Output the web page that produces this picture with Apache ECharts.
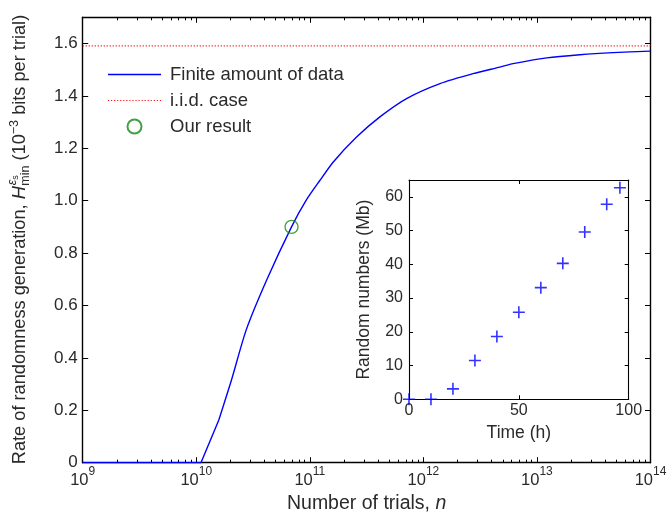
<!DOCTYPE html>
<html><head><meta charset="utf-8">
<script src="https://cdn.jsdelivr.net/npm/echarts@6/dist/echarts.min.js"></script>
<style>html,body{margin:0;padding:0;background:#fff}#c{width:671px;height:514px}</style>
</head><body><div id="c"></div>
<script>
// ---- data ----
const trialsN = [1e9, 1.1e10, 1.58e10, 2.04e10, 2.75e10, 4.17e10, 6.9e10, 9.3e10, 1.23e11, 1.61e11, 2.58e11, 4.14e11, 7.11e11, 1.40e12, 2.74e12, 4.71e12, 6.17e12, 1.22e13, 2.39e13, 4.68e13, 1e14];
const finiteRate = [0, 0, 0.163, 0.315, 0.506, 0.697, 0.900, 1.002, 1.078, 1.148, 1.243, 1.320, 1.390, 1.447, 1.485, 1.510, 1.523, 1.545, 1.557, 1.565, 1.571];
const iidN = [1e9, 1e14];
const iidRate = [1.591, 1.591];
const ourResultN = [6.9e10];
const ourResultRate = [0.900];
const timeHours = [0, 10, 20, 30, 40, 50, 60, 70, 80, 90, 96];
const randomMb = [0, 0, 3.1, 11.5, 18.6, 25.8, 33.1, 40.3, 49.6, 57.8, 62.7];
const xTickExponents = [9, 10, 11, 12, 13, 14];
const minorMultipliers = [2, 3, 4, 5, 6, 7, 8, 9];

const F = '"Liberation Sans", Arial, Helvetica, sans-serif';
const TXT = '#2a2a2a';

const minorVals = [];
xTickExponents.slice(0, -1).forEach(e => minorMultipliers.forEach(m => minorVals.push(m * Math.pow(10, e))));

// ---- y-axis label (stacked sub/superscript) ----
const cv = document.createElement('canvas').getContext('2d');
function tw(t, size, style) { cv.font = (style || 'normal') + ' ' + size + 'px ' + F; return cv.measureText(t).width; }
const yl = [];
let cur = 0;
const YS = 18.2, YSS = 12.5;
function put(t, size, style, dy, x) {
  yl.push({ type: 'text', x: x, y: dy - 0.35 * size,
    style: { text: t, fontSize: size, fontStyle: style || 'normal', fontFamily: F, fill: TXT, verticalAlign: 'middle', align: 'left' } });
}
function add(t, size, style, dy) { put(t, size, style, dy, cur); cur += tw(t, size, style); }
add('Rate of randomness generation, ', YS, 'normal', 0);
add('H', YS, 'italic', 0);
cur += 0.5;
const st = cur;
put('min', YSS, 'normal', 4, st);
put('\u03b5', YSS, 'italic', -9, st + 0.5);
put('s', 9, 'normal', -7, st + 0.5 + tw('\u03b5', YSS, 'italic'));
cur = st + Math.max(tw('min', YSS), tw('\u03b5', YSS, 'italic') + tw('s', 9) + 0.5);
add(' (10', YS, 'normal', 0);
add('\u22123', YSS, 'normal', -7);
add(' bits per trial)', YS, 'normal', 0);
const totalLen = cur;

const chart = echarts.init(document.getElementById('c'), null, { renderer: 'canvas' });

const lineMain = { show: true, onZero: false, lineStyle: { color: '#000', width: 1.4 } };
const lineInset = { show: true, onZero: false, lineStyle: { color: '#000', width: 1.1 } };
const tick = (len, extra) => Object.assign({ show: true, inside: true, length: len, lineStyle: { color: '#000', width: 1 } }, extra || {});

const finiteData = trialsN.map((n, i) => [n, finiteRate[i]]);

const option = {
  backgroundColor: '#fff',
  animation: false,
  textStyle: { fontFamily: F },
  grid: [
    { left: 82.7, right: 20.5, top: 17.3, bottom: 51.3, outerBoundsMode: 'none', containLabel: false },
    { left: 409, right: 42.3, top: 180, bottom: 114.7, outerBoundsMode: 'none', containLabel: false }
  ],
  legend: {
    orient: 'vertical', left: 108, top: 65, padding: 0, itemWidth: 53, itemHeight: 14, itemGap: 7,
    textStyle: { fontSize: 18.5, color: TXT, fontFamily: F, padding: [0, 0, 0, 4] },
    data: [
      { name: 'Finite amount of data', icon: 'path://M0,0H53V1.4H0Z' },
      { name: 'i.i.d. case', icon: 'path://' + Array.from({ length: 18 }, (_, i) => 'M' + (i * 3) + ',0h1.1v1.1h-1.1Z').join('') },
      { name: 'Our result' }
    ]
  },
  xAxis: [
    { gridIndex: 0, type: 'log', position: 'bottom', min: 1e9, max: 1e14, logBase: 10, splitNumber: 5,
      axisLine: lineMain, splitLine: { show: false },
      axisTick: tick(5.5),
      axisLabel: { margin: 3,
        formatter: v => '{b|10}{s|' + Math.round(Math.log10(v)) + '}',
        rich: { b: { fontSize: 16.5, lineHeight: 23, verticalAlign: 'bottom', color: TXT, fontFamily: F },
                s: { fontSize: 12, lineHeight: 12, verticalAlign: 'top', color: TXT, fontFamily: F } } },
      name: 'Number of trials, {i|n}', nameLocation: 'middle', nameGap: 27,
      nameTextStyle: { fontSize: 19.5, color: TXT, fontFamily: F, rich: { i: { fontSize: 19.5, fontStyle: 'italic', color: TXT, fontFamily: F } } } },
    { gridIndex: 0, type: 'log', position: 'bottom', min: 1e9, max: 1e14, logBase: 10,
      axisLine: { show: false, onZero: false }, splitLine: { show: false }, axisLabel: { show: false },
      axisTick: tick(3, { customValues: minorVals }) },
    { gridIndex: 0, type: 'log', position: 'top', min: 1e9, max: 1e14, logBase: 10, splitNumber: 5,
      axisLine: lineMain, splitLine: { show: false }, axisLabel: { show: false },
      axisTick: tick(5.5) },
    { gridIndex: 0, type: 'log', position: 'top', min: 1e9, max: 1e14, logBase: 10,
      axisLine: { show: false, onZero: false }, splitLine: { show: false }, axisLabel: { show: false },
      axisTick: tick(3, { customValues: minorVals }) },
    { gridIndex: 1, type: 'value', position: 'bottom', min: 0, max: 100, interval: 50,
      axisLine: lineInset, splitLine: { show: false },
      axisTick: tick(4),
      axisLabel: { fontSize: 16, color: TXT, margin: 3, fontFamily: F },
      name: 'Time (h)', nameLocation: 'middle', nameGap: 25,
      nameTextStyle: { fontSize: 17.5, color: TXT, fontFamily: F } },
    { gridIndex: 1, type: 'value', position: 'top', min: 0, max: 100, interval: 50,
      axisLine: lineInset, splitLine: { show: false }, axisLabel: { show: false },
      axisTick: tick(4) }
  ],
  yAxis: [
    { gridIndex: 0, type: 'value', position: 'left', min: 0, max: 1.7, interval: 0.2,
      axisLine: lineMain, splitLine: { show: false },
      axisTick: tick(5.5),
      axisLabel: { fontSize: 17, color: TXT, margin: 5, fontFamily: F, showMaxLabel: false,
        formatter: v => v === 0 ? '0' : v.toFixed(1) } },
    { gridIndex: 0, type: 'value', position: 'right', min: 0, max: 1.7, interval: 0.2,
      axisLine: lineMain, splitLine: { show: false }, axisLabel: { show: false },
      axisTick: tick(5.5) },
    { gridIndex: 1, type: 'value', position: 'left', min: 0, max: 65, interval: 10,
      axisLine: lineInset, splitLine: { show: false },
      axisTick: tick(4),
      axisLabel: { fontSize: 16, color: TXT, margin: 6, fontFamily: F, showMaxLabel: false },
      name: 'Random numbers (Mb)', nameLocation: 'middle', nameGap: 36,
      nameTextStyle: { fontSize: 17.5, color: TXT, fontFamily: F } },
    { gridIndex: 1, type: 'value', position: 'right', min: 0, max: 65, interval: 10,
      axisLine: lineInset, splitLine: { show: false }, axisLabel: { show: false },
      axisTick: tick(4) }
  ],
  series: [
    { name: 'Finite amount of data', type: 'line', xAxisIndex: 0, yAxisIndex: 0,
      data: finiteData.slice(0, 3), symbol: 'none', smooth: false,
      color: '#0000ff', itemStyle: { color: '#0000ff' }, lineStyle: { color: '#0000ff', width: 1.4 }, z: 3 },
    { name: 'Finite amount of data', type: 'line', xAxisIndex: 0, yAxisIndex: 0,
      data: finiteData.slice(2), symbol: 'none', smooth: 0.25,
      color: '#0000ff', itemStyle: { color: '#0000ff' }, lineStyle: { color: '#0000ff', width: 1.4 }, z: 3 },
    { name: 'i.i.d. case', type: 'line', xAxisIndex: 0, yAxisIndex: 0,
      data: iidN.map((n, i) => [n, iidRate[i]]), symbol: 'none',
      color: '#ff0000', itemStyle: { color: '#ff0000' }, lineStyle: { color: '#ff0000', width: 1.1, type: [1.1, 1.9] }, z: 2 },
    { name: 'Our result', type: 'scatter', xAxisIndex: 0, yAxisIndex: 0,
      data: ourResultN.map((n, i) => [n, ourResultRate[i]]), symbol: 'circle', symbolSize: 13,
      itemStyle: { color: 'rgba(255,255,255,0)', borderColor: '#138a13', borderWidth: 1.3 }, z: 4 },
    { name: 'inset', type: 'scatter', xAxisIndex: 4, yAxisIndex: 2,
      data: timeHours.map((t, i) => [t, randomMb[i]]),
      symbol: 'path://M5.2,0H6.8V12H5.2ZM0,5.2H12V6.8H0Z', symbolSize: 12,
      itemStyle: { color: '#0000ff' }, z: 5 }
  ],
  graphic: [
    { type: 'group', x: 26, y: 239.5 + totalLen / 2, rotation: Math.PI / 2, children: yl }
  ]
};
chart.setOption(option);
</script>
</body></html>
